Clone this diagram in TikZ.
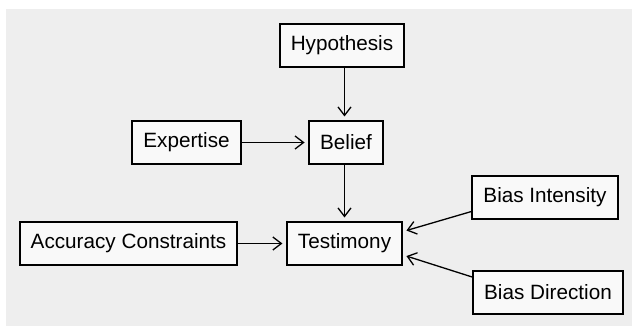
\documentclass[tikz,border=0pt]{standalone}
\usepackage{fontspec}
\setmainfont{Liberation Sans}
\usetikzlibrary{arrows.meta}
\definecolor{panel}{HTML}{EEEEEE}
\definecolor{boxfill}{HTML}{F9F9F9}
\tikzset{
	factor/.style={draw=black, line width=2pt, fill=boxfill, minimum height=43pt,
		inner xsep=11pt, inner ysep=0pt, font=\fontsize{20.7}{24}\selectfont},
	link/.style={line width=1.3pt, -{Straight Barb[length=8.5pt,width=13pt,line width=1.3pt]},
		shorten >=3.5pt}
}
\begin{document}
\begin{tikzpicture}[x=1pt, y=-1pt]
	\def \gap{ 3.5pt };
	\useasboundingbox (0,0) rectangle (632,326);
	\fill[panel] (6,9) rectangle (632,326);
	\node[factor] (hyp) at (342,45.5) {Hypothesis};
	\node[factor] (bel) at (346,142.5) {Belief};
	\node[factor] (exp) at (186.5,142.5) {Expertise};
	\node[factor] (tes) at (344.5,243.5) {Testimony};
	\node[factor] (acc) at (128.5,243.5) {Accuracy Constraints};
	\node[factor] (bint) at (545,197.5) {Bias Intensity};
	\node[factor] (bdir) at (548,292.5) {Bias Direction};
	\draw[link] ([xshift=2.5pt]hyp.south) -- ([xshift=2.5pt]hyp.south |- bel.north);
	\draw[link] (exp.east) -- (bel.west);
	\draw[link] ([xshift=-1.5pt]bel.south) -- ([xshift=-1.5pt]bel.south |- tes.north);
	\draw[link] (acc.east) -- (tes.west);
	\draw[link] ([yshift=-14pt]bint.west) -- ([yshift=12pt]tes.east);
	\draw[link] ([yshift=15.5pt]bdir.west) -- ([yshift=-11.5pt]tes.east);
\end{tikzpicture}
\end{document}
